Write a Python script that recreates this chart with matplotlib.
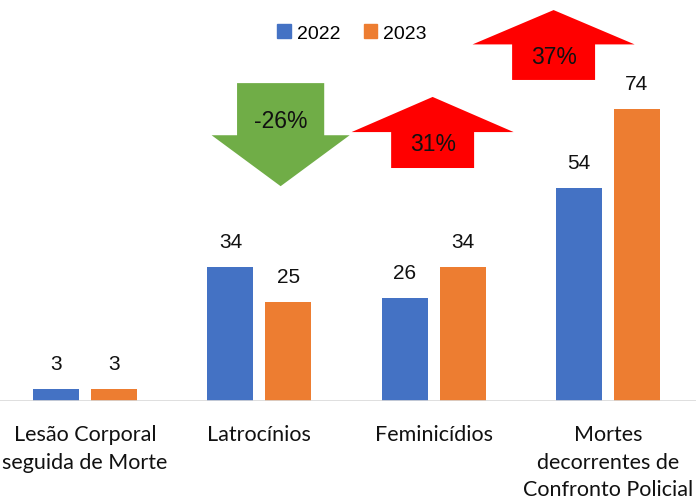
import matplotlib.pyplot as plt
from matplotlib.patches import Polygon, Patch
import numpy as np

# dados
categorias = ['Lesão Corporal\nseguida de Morte', 'Latrocínios', 'Feminicídios',
              'Mortes\ndecorrentes de\nConfronto Policial']
v2022 = [3, 34, 26, 54]
v2023 = [3, 25, 34, 74]
variacao = ['', '-26%', '31%', '37%']

azul = '#4472C4'
laranja = '#ED7D31'

fig = plt.figure(figsize=(6.96, 5.02), dpi=100)
ax = fig.add_axes([0, 100 / 502, 1, 402 / 502])

x = np.arange(len(categorias))
w = 0.264
b1 = ax.bar(x - 0.166, v2022, w, color=azul, label='2022')
b2 = ax.bar(x + 0.166, v2023, w, color=laranja, label='2023')

for bars in (b1, b2):
    for b in bars:
        ax.annotate(str(int(b.get_height())), (b.get_x() + b.get_width() / 2, b.get_height()),
                    xytext=(0, 18.5), textcoords='offset points', ha='center', va='center',
                    fontsize=15, family='Liberation Sans', color='#111111')

ax.set_xlim(-0.488, 3.505)
ax.set_ylim(0, 101.8)
for s in ax.spines.values():
    s.set_visible(False)
ax.axhline(0, color='#D9D9D9', lw=1.2)
ax.set_yticks([])
ax.set_xticks(x)
ax.set_xticklabels(categorias, fontsize=15.5, family='Lato', linespacing=1.48, color='#111111')
ax.tick_params(axis='x', length=0, pad=16.5)


# setas de variacao
def seta(cx, y0, y1, meia_haste, meia_cabeca, cabeca, cor, txt, ty):
    sentido = 1 if y1 > y0 else -1
    yc = y1 - sentido * cabeca
    pts = [(cx - meia_haste, y0), (cx + meia_haste, y0), (cx + meia_haste, yc),
           (cx + meia_cabeca, yc), (cx, y1), (cx - meia_cabeca, yc), (cx - meia_haste, yc)]
    ax.add_patch(Polygon(pts, closed=True, color=cor, lw=0, clip_on=False))
    ax.text(cx, ty, txt, ha='center', va='center', fontsize=16.5,
            family='Liberation Sans', color='#111111')


seta(1.122, 80.5, 54.4, 0.25, 0.396, 12.9, '#70AD47', variacao[1], 71.1)
seta(1.994, 59.0, 77.0, 0.238, 0.465, 8.9, '#FF0000', variacao[2], 65.1)
seta(2.688, 81.3, 99.0, 0.238, 0.465, 8.7, '#FF0000', variacao[3], 87.3)

ax.legend(handles=[Patch(color=azul, label='2022'), Patch(color=laranja, label='2023')],
          loc='center', bbox_to_anchor=(352 / 696, 1 - 34 / 402), ncol=2, frameon=False,
          prop={'family': 'Liberation Sans', 'size': 14}, handlelength=0.7, handleheight=0.7,
          handletextpad=0.3, columnspacing=1.2)

plt.savefig('out.png', dpi=100)
